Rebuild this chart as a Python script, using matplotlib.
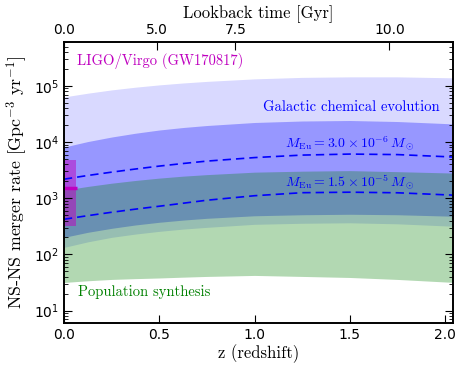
import numpy as np
import matplotlib
matplotlib.use("Agg")
import matplotlib.pyplot as plt

# redshift grid the bands were read at
z = [0.0, 0.125, 0.25, 0.375, 0.5, 0.625, 0.75, 1.0, 1.25, 1.5, 1.75, 2.05]

# galactic chemical evolution, wide range (light blue)
gce_wide_hi = [6.36e4, 7.41e4, 8.48e4, 9.48e4, 1.042e5, 1.127e5, 1.203e5,
               1.334e5, 1.418e5, 1.448e5, 1.448e5, 1.39e5]
gce_wide_lo = [133, 167, 201, 230, 257, 282, 303, 343, 358, 365, 350, 316]
# galactic chemical evolution, narrow range (medium blue)
gce_hi = [8.14e3, 1.02e4, 1.228e4, 1.436e4, 1.638e4, 1.815e4, 1.97e4,
          2.23e4, 2.37e4, 2.42e4, 2.32e4, 2.10e4]
gce_lo = [201, 247, 291, 334, 373, 408, 439, 487, 508, 518, 508, 477]
# population synthesis (green)
pop_hi = [1.39e3, 1.62e3, 1.85e3, 2.07e3, 2.28e3, 2.47e3, 2.63e3,
          2.91e3, 3.03e3, 3.10e3, 2.97e3, 2.80e3]
pop_lo = [31.6, 33.9, 35.8, 37.0, 38.0, 39.3, 40.5, 42.2, 40.5, 38.8, 35.8, 31.6]
# dashed curves for two europium yields
rate_eu_3e6 = [2.18e3, 2.54e3, 2.91e3, 3.31e3, 3.73e3, 4.15e3, 4.58e3,
               5.29e3, 5.86e3, 6.11e3, 5.98e3, 5.40e3]
rate_eu_15e5 = [422, 489, 562, 639, 720, 814, 921, 1.108e3, 1.254e3, 1.28e3,
                1.25e3, 1.131e3]

# GW170817 rate estimate
ligo_rate = 1540
ligo_lo = 320
ligo_hi = 4740
ligo_zmax = 0.063

# top axis: lookback time ticks and the redshifts they sit at
lookback_labels = ['0.0', '5.0', '7.5', '10.0']
lookback_z = [0.0, 0.487, 0.90, 1.707]

plt.rcParams['xtick.direction'] = 'in'
plt.rcParams['ytick.direction'] = 'in'
plt.rcParams['axes.linewidth'] = 1.2

fig = plt.figure(figsize=(4.63, 3.70), dpi=100)
ax = fig.add_axes([0.138, 0.127, 0.840, 0.759])

ax.fill_between(z, gce_wide_lo, gce_wide_hi, color='b', alpha=0.15, lw=0)
ax.fill_between(z, gce_lo, gce_hi, color='b', alpha=0.3, lw=0)
ax.fill_between(z, pop_lo, pop_hi, color=(0, 0.5, 0), alpha=0.3, lw=0)

ax.plot(z, rate_eu_3e6, color='b', ls='--', lw=1.2, dashes=(5, 3))
ax.plot(z, rate_eu_15e5, color='b', ls='--', lw=1.2, dashes=(5, 3))

ax.fill_between([0, ligo_zmax], [ligo_lo, ligo_lo], [ligo_hi, ligo_hi],
                color='m', alpha=0.5, lw=0)
ax.plot([0, 0.07], [ligo_rate, ligo_rate], color='m', lw=2.5, solid_capstyle='butt')

ax.set_yscale('log')
ax.set_xlim(0, 2.04)
ax.set_ylim(6, 6e5)
ax.set_xticks([0.0, 0.5, 1.0, 1.5, 2.0])
ax.set_xticklabels(['0.0', '0.5', '1.0', '1.5', '2.0'])
ax.tick_params(axis='both', which='both', right=True, labelsize=10)
ax.tick_params(axis='y', which='major', length=6)
ax.tick_params(axis='y', which='minor', length=3)
ax.tick_params(axis='x', which='major', length=6)

ax.set_xlabel('z (redshift)', family='cmr10', fontsize=12, labelpad=2)
ax.set_ylabel(r'NS-NS merger rate [Gpc$^{-3}$ yr$^{-1}$]', family='cmr10',
              math_fontfamily='cm', fontsize=12.8, labelpad=3)

ax.text(0.068, 2.8e5, 'LIGO/Virgo (GW170817)', color='m', family='cmr10',
        fontsize=10.5, va='center', ha='left')
ax.text(1.969, 4.2e4, 'Galactic chemical evolution', color='b', family='cmr10',
        fontsize=10.5, va='center', ha='right')
ax.text(0.073, 21, 'Population synthesis', color=(0, 0.5, 0), family='cmr10',
        fontsize=10.5, va='center', ha='left')
ax.text(1.497, 9.2e3, r'$M_{\rm Eu}=3.0\times10^{-6}\,M_\odot$', color='b',
        math_fontfamily='cm', fontsize=10, va='center', ha='center')
ax.text(1.497, 1.93e3, r'$M_{\rm Eu}=1.5\times10^{-5}\,M_\odot$', color='b',
        math_fontfamily='cm', fontsize=10, va='center', ha='center')

top = ax.twiny()
top.set_xlim(ax.get_xlim())
top.set_xticks(lookback_z)
top.set_xticklabels(lookback_labels)
top.tick_params(axis='x', direction='in', length=6, labelsize=10)
top.set_xlabel('Lookback time [Gyr]', family='cmr10', fontsize=12, labelpad=4)

fig.savefig('out.png', dpi=100)
